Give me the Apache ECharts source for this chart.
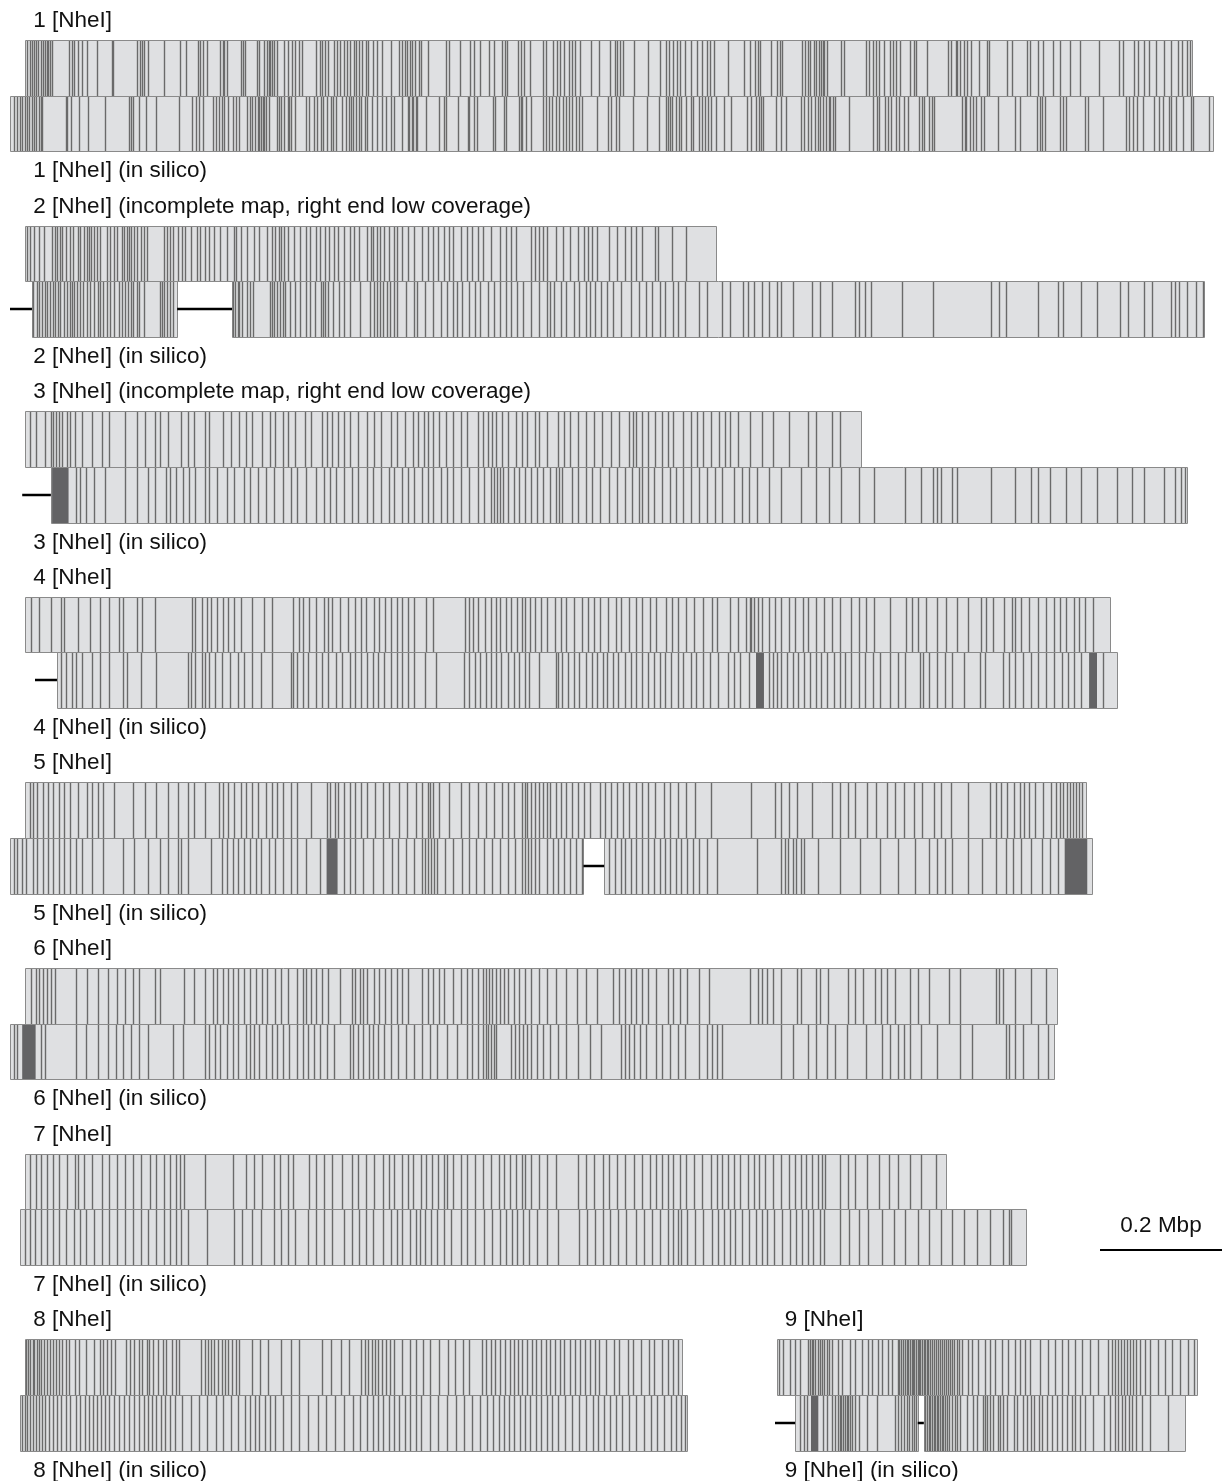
<!DOCTYPE html>
<html>
<head>
<meta charset="utf-8">
<title>NheI optical maps vs in silico maps</title>
<script src="https://cdn.jsdelivr.net/npm/echarts@6/dist/echarts.min.js"></script>
<style>
  html, body { margin: 0; padding: 0; background: #ffffff; }
  #chart { width: 1222px; height: 1481px; }
</style>
</head>
<body>
<div id="chart"></div>
<script>
// NheI restriction maps per chromosome: optical map (top) and in silico map (bottom).
// All positions are in kbp.

const chromosomes = ['1', '2', '3', '4', '5', '6', '7', '8', '9'];

const opticalTitles = [
  '1 [NheI]',
  '2 [NheI] (incomplete map, right end low coverage)',
  '3 [NheI] (incomplete map, right end low coverage)',
  '4 [NheI]', '5 [NheI]', '6 [NheI]', '7 [NheI]', '8 [NheI]', '9 [NheI]'
];
const silicoTitles = chromosomes.map(c => c + ' [NheI] (in silico)');

// optical map start (kbp from the panel origin) and total length
const opticalStart = [25, 25, 25, 25, 25, 25, 25, 25, 3];
const opticalLength = [1912, 1133, 1370, 1778, 1739, 1692, 1510, 1076, 689];

// optical cut sites, kbp from the start of each optical map
const opt1 = [3,7,11,14,17,21,25,29,33,36,38,41,44,71,77,80,86,93,102,118,142,144,184,188,191,195,202,227,254,264,283,287,291,298,319,324,326,331,353,357,361,380,384,391,396,399,402,405,408,413,424,430,437,443,448,454,476,483,487,492,497,506,511,516,522,528,533,539,543,547,552,558,562,570,577,585,599,612,618,623,626,630,634,639,645,649,661,689,694,712,729,736,745,761,768,782,786,790,807,812,818,828,849,854,865,871,876,883,891,897,902,909,928,940,958,966,970,975,980,998,1021,1040,1050,1055,1062,1069,1074,1082,1091,1102,1110,1117,1122,1129,1152,1178,1188,1196,1201,1204,1223,1233,1238,1241,1274,1279,1283,1287,1293,1297,1301,1305,1307,1309,1315,1337,1342,1379,1383,1389,1394,1399,1407,1417,1423,1428,1434,1451,1457,1461,1478,1512,1517,1525,1528,1533,1539,1544,1550,1563,1577,1580,1609,1617,1643,1647,1660,1669,1685,1696,1713,1729,1760,1793,1800,1818,1824,1834,1842,1853,1867,1878,1889,1897,1905,1909];
const opt2 = [3,8,14,22,30,44,48,52,57,60,66,74,79,86,90,96,101,104,108,112,118,123,134,139,145,150,159,162,166,170,173,178,183,189,195,200,227,232,237,243,251,257,262,271,282,287,294,301,309,320,331,342,346,353,364,375,383,396,405,410,416,419,424,430,440,451,461,467,477,484,492,498,506,512,522,532,539,547,560,566,570,576,582,588,596,604,610,618,627,637,650,660,669,676,686,695,701,714,724,733,742,750,763,778,788,797,804,829,836,842,849,855,870,881,893,906,916,922,929,938,957,970,983,993,1002,1011,1032,1037,1060,1083];
const opt3 = [8,17,33,42,46,51,55,61,68,74,81,93,110,125,138,164,183,196,212,221,234,256,266,276,294,302,324,337,350,362,371,388,401,410,422,430,443,458,468,486,494,503,512,522,532,545,561,571,584,599,609,622,635,644,653,660,669,678,689,701,714,724,742,750,759,765,772,781,791,804,814,823,836,842,855,874,883,893,906,919,932,945,960,973,990,996,1002,1011,1021,1032,1044,1053,1062,1079,1092,1101,1111,1124,1137,1147,1156,1169,1188,1207,1226,1252,1284,1297,1322,1335];
const opt4 = [10,23,42,59,64,87,106,123,138,154,161,183,192,212,273,279,289,298,305,315,324,333,343,353,371,392,404,439,448,456,465,477,490,497,503,516,529,541,550,558,571,580,589,599,609,618,627,637,657,669,721,727,734,742,753,763,772,778,788,797,806,814,819,827,836,845,855,868,878,887,900,913,922,932,942,955,968,977,989,1002,1011,1024,1034,1050,1060,1070,1083,1096,1111,1126,1134,1156,1168,1181,1188,1190,1194,1201,1207,1220,1229,1239,1252,1262,1275,1284,1297,1309,1322,1335,1354,1367,1379,1392,1418,1444,1454,1463,1476,1495,1510,1527,1546,1566,1575,1587,1604,1617,1623,1633,1646,1661,1674,1687,1697,1706,1719,1728,1738,1751];
const opt5 = [8,13,20,29,38,46,55,64,74,87,102,110,119,128,145,177,196,215,234,251,266,276,294,317,324,333,343,353,362,371,381,394,404,413,422,435,445,468,494,499,507,512,522,532,541,550,561,573,586,596,612,625,640,650,660,663,669,678,695,714,727,742,755,768,781,791,801,814,819,823,829,836,842,849,855,861,870,878,887,896,906,916,925,942,951,960,970,980,989,1002,1011,1021,1032,1047,1057,1070,1083,1098,1124,1190,1229,1239,1252,1265,1290,1322,1335,1348,1361,1380,1395,1412,1425,1441,1457,1470,1489,1502,1518,1546,1582,1591,1600,1610,1621,1630,1638,1646,1655,1668,1681,1690,1697,1702,1708,1713,1718,1723,1728,1733];
const opt6 = [10,17,23,29,36,42,49,84,102,119,136,151,164,177,187,212,221,260,276,294,307,315,324,333,340,349,358,369,379,388,397,410,420,430,445,456,461,468,477,486,497,516,535,541,548,554,561,571,580,589,599,609,618,627,650,660,669,678,686,701,714,724,733,742,750,755,760,765,772,778,785,791,801,810,819,829,842,855,870,887,904,919,938,964,973,983,993,1002,1011,1021,1034,1053,1062,1073,1085,1105,1121,1188,1201,1207,1216,1226,1239,1265,1271,1297,1303,1316,1348,1361,1374,1393,1403,1412,1425,1450,1463,1482,1514,1533,1591,1597,1603,1623,1649,1674];
const opt7 = [8,17,26,36,46,55,68,81,87,97,110,125,138,151,164,177,189,205,215,228,238,247,253,260,294,340,362,375,388,407,417,430,439,465,477,490,503,520,535,545,558,571,586,596,605,618,627,635,648,657,666,676,686,691,701,714,724,737,750,763,776,785,794,804,814,819,829,842,855,870,906,919,932,947,957,970,983,998,1011,1024,1034,1044,1053,1062,1073,1083,1096,1109,1124,1134,1143,1152,1162,1172,1185,1194,1203,1213,1226,1239,1252,1262,1271,1280,1290,1300,1306,1311,1335,1348,1361,1380,1399,1416,1431,1450,1469,1493];
const opt8 = [2,5,8,12,15,19,23,26,31,35,40,46,50,56,61,66,72,82,88,99,112,123,128,134,140,147,165,171,178,186,192,199,203,210,218,226,231,240,247,252,288,294,299,304,310,316,322,328,333,339,345,351,372,385,398,420,436,449,487,502,518,531,551,557,562,568,574,579,585,592,598,604,618,630,641,652,664,679,693,705,718,728,748,756,763,770,778,786,794,801,808,815,822,830,838,846,853,861,869,876,884,893,901,910,918,926,934,941,952,965,974,988,997,1009,1022,1031,1044,1053,1062,1070];
const opt9 = [3,10,21,30,38,51,54,57,60,63,67,70,74,78,82,86,90,100,107,120,128,139,149,156,166,172,182,189,198,201,204,207,210,213,215,218,221,223,225,228,231,233,235,238,241,243,246,248,251,254,257,261,264,267,270,274,277,280,284,287,291,295,299,303,313,320,330,341,349,358,369,379,390,399,407,415,431,444,456,467,477,489,500,513,526,543,549,554,559,564,569,574,579,584,589,595,604,612,625,636,648,661,674,684];

// in silico cut sites, kbp from the panel origin
const sil1 = [7,12,16,20,25,28,31,36,39,43,48,50,53,91,94,100,113,128,156,195,198,201,212,223,239,277,299,305,310,317,332,337,343,347,351,358,365,370,376,389,393,397,402,406,408,411,414,416,419,424,437,441,444,449,455,458,460,467,485,490,499,504,510,513,520,526,529,534,545,551,555,559,563,567,572,575,582,586,594,602,610,616,624,630,643,652,654,659,661,665,668,682,704,712,715,735,750,753,761,766,791,795,810,813,834,838,840,846,854,873,879,884,889,895,900,906,911,917,922,928,932,938,962,981,985,993,998,1021,1045,1064,1075,1078,1082,1086,1091,1096,1100,1108,1116,1120,1130,1135,1140,1145,1149,1157,1171,1182,1208,1215,1223,1228,1231,1234,1255,1264,1272,1297,1302,1308,1313,1319,1324,1328,1332,1337,1342,1344,1349,1353,1376,1414,1421,1425,1435,1439,1444,1453,1458,1465,1472,1490,1495,1499,1506,1512,1515,1561,1565,1568,1573,1579,1584,1592,1597,1619,1648,1656,1683,1688,1692,1697,1722,1726,1731,1763,1767,1792,1829,1835,1841,1847,1857,1875,1884,1890,1900,1904,1912,1923,1936,1939,1966];
const sil2 = [38,44,48,52,57,61,66,70,74,79,82,88,93,98,101,105,110,115,120,127,131,137,145,148,153,159,164,170,178,183,189,194,198,202,208,212,219,246,249,253,257,262,268,366,369,373,376,380,388,393,399,426,429,433,437,443,447,451,459,467,476,486,492,500,510,513,517,522,530,539,547,558,574,590,596,601,607,612,618,623,629,634,649,662,668,681,694,707,716,726,732,741,752,762,771,784,793,803,813,822,831,841,854,867,880,886,892,903,912,924,933,944,950,959,969,979,988,1001,1018,1031,1043,1052,1065,1074,1087,1095,1107,1129,1142,1168,1180,1202,1210,1219,1232,1244,1257,1264,1283,1315,1328,1347,1385,1392,1402,1411,1462,1513,1609,1622,1632,1686,1718,1727,1756,1782,1820,1833,1859,1872,1904,1910,1916,1929,1944,1955];
const sil3 = [109,115,124,137,156,188,208,227,237,255,263,272,284,293,304,319,327,339,355,368,383,393,406,419,432,447,460,470,485,502,515,524,534,547,560,570,585,595,608,621,630,643,652,662,675,685,694,707,716,726,739,752,767,777,788,793,798,803,809,816,826,835,844,854,864,873,886,895,900,905,921,931,944,954,967,982,995,1008,1020,1031,1036,1046,1056,1069,1082,1092,1104,1116,1129,1142,1155,1168,1187,1200,1212,1225,1244,1264,1296,1321,1343,1363,1392,1417,1468,1494,1513,1520,1526,1545,1552,1609,1648,1673,1686,1705,1731,1756,1782,1814,1840,1859,1891,1910,1919,1927];
const sil4 = [83,92,101,109,118,135,147,163,186,191,214,240,291,297,304,314,319,327,336,348,361,374,383,396,412,429,460,464,470,480,489,502,511,521,534,544,557,566,575,585,595,604,613,624,634,643,652,662,681,698,745,752,762,771,780,788,796,805,816,826,835,844,851,867,895,899,905,915,924,933,944,954,963,972,979,988,997,1008,1018,1027,1036,1046,1056,1065,1074,1084,1095,1104,1116,1125,1136,1148,1161,1177,1187,1197,1212,1244,1251,1257,1264,1274,1283,1292,1302,1312,1321,1330,1340,1351,1360,1369,1379,1392,1402,1415,1427,1443,1456,1468,1491,1496,1507,1520,1533,1545,1564,1590,1599,1628,1637,1648,1660,1673,1686,1699,1712,1724,1735,1744,1756,1791];
const sil5 = [7,12,19,27,37,45,54,63,71,80,89,99,109,118,135,153,186,204,227,246,259,275,281,291,329,348,355,365,374,383,393,403,412,425,434,447,460,470,485,508,547,557,566,579,595,611,626,636,649,662,675,681,685,690,695,700,713,726,741,752,764,777,790,803,816,828,839,844,849,854,860,867,880,890,899,908,918,928,937,982,992,1001,1008,1018,1027,1036,1046,1056,1065,1074,1082,1091,1100,1110,1120,1129,1142,1159,1225,1264,1270,1276,1283,1289,1296,1302,1325,1360,1394,1427,1456,1484,1507,1520,1533,1545,1571,1594,1616,1632,1645,1658,1673,1692,1705,1718];
const sil6 = [7,12,50,58,109,124,144,160,173,186,199,211,227,268,284,319,327,336,345,355,365,374,387,393,400,409,419,429,438,447,457,470,480,489,498,508,519,531,557,562,570,579,588,595,604,613,624,636,649,662,675,688,700,716,732,749,758,767,775,780,784,788,793,796,822,828,835,841,848,854,864,873,886,899,912,931,950,969,1001,1008,1014,1023,1033,1043,1059,1069,1082,1095,1107,1129,1142,1151,1159,1168,1264,1283,1308,1321,1340,1353,1372,1404,1430,1443,1456,1466,1475,1494,1520,1558,1577,1632,1637,1648,1660,1686,1701];
const sil7 = [25,32,41,50,60,71,80,92,105,114,124,137,150,163,176,188,201,214,227,240,252,263,272,281,291,323,368,380,396,412,432,444,455,467,489,502,515,528,547,560,572,583,595,611,624,634,643,656,665,672,681,690,700,711,723,739,749,762,777,790,803,813,823,831,841,851,864,880,899,933,946,959,972,984,997,1010,1027,1040,1052,1065,1078,1087,1095,1100,1110,1123,1136,1151,1161,1171,1180,1189,1200,1212,1223,1232,1241,1253,1266,1279,1289,1299,1308,1317,1328,1334,1360,1376,1392,1407,1430,1449,1468,1488,1507,1526,1545,1564,1586,1607,1628,1637,1641];
const sil8 = [20,24,28,33,37,42,47,53,58,64,70,77,84,92,99,108,115,123,129,136,142,149,156,163,170,178,187,195,204,212,219,226,233,240,247,254,262,271,282,296,310,323,337,349,362,373,385,393,401,409,418,426,435,447,460,474,489,505,518,533,548,562,574,585,595,604,612,621,630,638,647,656,665,674,688,702,716,731,744,757,770,782,792,801,810,818,827,836,845,853,862,871,880,889,899,910,921,932,944,955,964,973,983,994,1004,1015,1027,1039,1050,1061,1072,1083,1092,1100,1106];
const sil9 = [41,47,52,79,85,93,98,103,107,109,112,115,118,120,123,127,131,137,150,167,197,202,207,211,216,220,224,228,231,246,249,252,254,257,260,262,265,268,271,273,276,279,282,286,290,295,299,303,314,325,331,341,344,347,353,358,365,369,373,380,391,396,407,413,419,425,432,437,446,454,462,470,478,487,492,500,509,522,539,549,558,563,569,574,580,585,592,601,615,645];

// in silico sequence blocks, unresolved gaps and clusters of dense cut sites
const silicoBlocks = [
  [[0, 1972]],
  [[36, 274], [364, 1958]],
  [[67, 1930]],
  [[77, 1814]],
  [[0, 940], [974, 1774]],
  [[0, 1711]],
  [[16, 1665]],
  [[16, 1110]],
  [[33, 234], [244, 672]]
];
const silicoGaps = [
  [],
  [[0, 36], [274, 364]],
  [[20, 67]],
  [[41, 77]],
  [[940, 974]],
  [],
  [],
  [],
  [[0, 33], [234, 244]]
];
const silicoDense = [
  [],
  [],
  [[69, 96]],
  [[1223, 1236], [1769, 1782]],
  [[519, 537], [1729, 1766]],
  [[20, 42]],
  [],
  [],
  [[59, 71]]
];

const scaleBarKb = 200;

const opticalCuts = [opt1, opt2, opt3, opt4, opt5, opt6, opt7, opt8, opt9];
const silicoCuts = [sil1, sil2, sil3, sil4, sil5, sil6, sil7, sil8, sil9];

// panel placement: chromosomes 1-8 stacked on the left, 9 beside 8
const panelGrid = [0, 0, 0, 0, 0, 0, 0, 0, 1];
const panelRow = [0, 1, 2, 3, 4, 5, 6, 7, 7];

const BAR = 0.3;                 // bar height in row units
const KB_PER_PX = 200 / 122;     // drawing scale: 0.2 Mbp per 122 px
const GRID_LEFT = [10, 775];
const GRID_WIDTH = [1212, 447];
const FONT = '"Liberation Sans", Arial, Helvetica, sans-serif';

function barBox(api, row, level) {
  const y0 = api.coord([0, row + level * BAR])[1];
  const y1 = api.coord([0, row + (level + 1) * BAR])[1];
  return [Math.round(y0), Math.round(y1)];
}

function renderBar(params, api) {
  const x0 = Math.round(api.coord([api.value(0), 0])[0]);
  const x1 = Math.round(api.coord([api.value(1), 0])[0]);
  const [y0, y1] = barBox(api, api.value(2), api.value(3));
  return {
    type: 'rect',
    shape: { x: x0 + 0.5, y: y0 + 0.5, width: x1 - x0, height: y1 - y0 },
    style: { fill: '#dfe0e2', stroke: '#8a8a8a', lineWidth: 1 }
  };
}

function renderCut(params, api) {
  const x = Math.round(api.coord([api.value(0), 0])[0]) + 0.5;
  const [y0, y1] = barBox(api, api.value(1), api.value(2));
  return {
    type: 'line',
    shape: { x1: x, y1: y0 + 1, x2: x, y2: y1 },
    style: { stroke: '#6a6a6a', lineWidth: 1.4 }
  };
}

function renderDense(params, api) {
  const x0 = api.coord([api.value(0), 0])[0];
  const x1 = api.coord([api.value(1), 0])[0];
  const [y0, y1] = barBox(api, api.value(2), api.value(3));
  return {
    type: 'rect',
    shape: { x: x0, y: y0 + 1, width: x1 - x0, height: y1 - y0 - 1 },
    style: { fill: '#636365' }
  };
}

function renderGap(params, api) {
  const x0 = api.coord([api.value(0), 0])[0];
  const x1 = api.coord([api.value(1), 0])[0];
  const [y0, y1] = barBox(api, api.value(2), 1);
  const y = Math.round((y0 + y1) / 2);
  return {
    type: 'line',
    shape: { x1: x0, y1: y, x2: x1, y2: y },
    style: { stroke: '#000000', lineWidth: 2.5 }
  };
}

function renderLabel(params, api) {
  const i = api.value(2);
  const level = api.value(3);
  const row = api.value(1);
  const x = api.coord([api.value(0), 0])[0] + 8;
  const y = level === 0 ? barBox(api, row, 0)[0] - 19 : barBox(api, row, 1)[1] + 20;
  return {
    type: 'text',
    x: x,
    y: y,
    style: {
      text: level === 0 ? opticalTitles[i] : silicoTitles[i],
      fill: '#111111',
      fontSize: 22.5,
      fontFamily: FONT,
      align: 'left',
      verticalAlign: 'middle'
    }
  };
}

function renderScaleBar(params, api) {
  const cs = params.coordSys;
  const right = cs.x + cs.width;
  const len = api.size([api.value(0), 0])[0];
  const y = barBox(api, 6, 0)[0] + 96;
  return {
    type: 'group',
    children: [
      { type: 'line', shape: { x1: right - len, y1: y, x2: right, y2: y },
        style: { stroke: '#000000', lineWidth: 2 } },
      { type: 'text', x: right - len / 2, y: y - 24,
        style: { text: (api.value(0) / 1000) + ' Mbp', fill: '#111111', fontSize: 22.5,
                 fontFamily: FONT, align: 'center', verticalAlign: 'middle' } }
    ]
  };
}

function seriesForGrid(g) {
  const bars = [], cuts = [], dense = [], gaps = [], labels = [];
  chromosomes.forEach((c, i) => {
    if (panelGrid[i] !== g) return;
    const row = panelRow[i];
    const s = opticalStart[i];
    bars.push([s, s + opticalLength[i], row, 0]);
    opticalCuts[i].forEach(p => cuts.push([s + p, row, 0]));
    silicoBlocks[i].forEach(b => bars.push([b[0], b[1], row, 1]));
    silicoCuts[i].forEach(p => cuts.push([p, row, 1]));
    silicoDense[i].forEach(d => dense.push([d[0], d[1], row, 1]));
    silicoGaps[i].forEach(d => gaps.push([d[0], d[1], row]));
    labels.push([s, row, i, 0]);
    labels.push([s, row, i, 1]);
  });
  const base = { type: 'custom', xAxisIndex: g, yAxisIndex: g, clip: false, silent: true, animation: false };
  const list = [
    Object.assign({}, base, { name: 'maps', renderItem: renderBar, data: bars, z: 1 }),
    Object.assign({}, base, { name: 'cut sites', renderItem: renderCut, data: cuts, z: 2 }),
    Object.assign({}, base, { name: 'dense clusters', renderItem: renderDense, data: dense, z: 3 }),
    Object.assign({}, base, { name: 'gaps', renderItem: renderGap, data: gaps, z: 3 }),
    Object.assign({}, base, { name: 'labels', renderItem: renderLabel, data: labels, z: 4 })
  ];
  if (g === 0) {
    list.push(Object.assign({}, base, { name: 'scale', renderItem: renderScaleBar, data: [[scaleBarKb, 0]], z: 4 }));
  }
  return list;
}

const chart = echarts.init(document.getElementById('chart'), null, { renderer: 'canvas' });
const yMin = -0.21552, yMax = 7.76401;
chart.setOption({
  animation: false,
  backgroundColor: '#ffffff',
  grid: [0, 1].map(g => ({ left: GRID_LEFT[g], top: 0, width: GRID_WIDTH[g], height: 1481 })),
  xAxis: [0, 1].map(g => ({ type: 'value', gridIndex: g, min: 0, max: GRID_WIDTH[g] * KB_PER_PX, show: false })),
  yAxis: [0, 1].map(g => ({ type: 'value', gridIndex: g, min: yMin, max: yMax, inverse: true, show: false })),
  series: seriesForGrid(0).concat(seriesForGrid(1))
});
</script>
</body>
</html>
